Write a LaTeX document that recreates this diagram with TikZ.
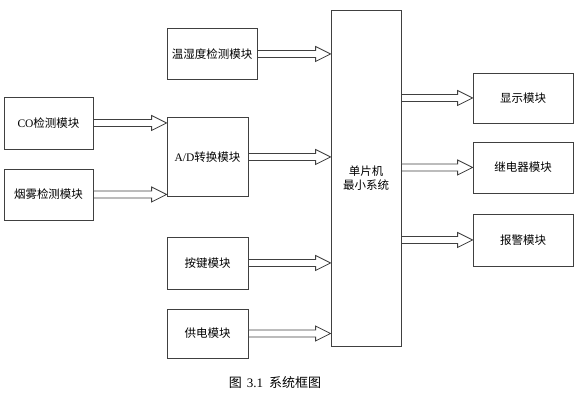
\documentclass[tikz,border=0pt]{standalone}
\usepackage{fontspec}
\setmainfont{Liberation Serif}
\newfontfamily\cjk{Noto Sans CJK SC}
\usetikzlibrary{calc}
\tikzset{
  box/.style={draw=black!75, line width=0.8pt, fill=white, inner sep=0pt, font=\fontsize{11.5}{14}\selectfont\cjk},
  arr/.style={draw=black!75, line width=0.8pt, fill=white},
}
\newcommand\barrow[2]{%
  \draw[arr] let \p1=#1, \p2=#2 in
    (\x1,{\y1+3.5pt}) -- ({\x2-15pt},{\y1+3.5pt}) -- ({\x2-15pt},{\y1+7.5pt}) -- (\x2,\y1)
    -- ({\x2-15pt},{\y1-7.5pt}) -- ({\x2-15pt},{\y1-3.5pt}) -- (\x1,{\y1-3.5pt}) -- cycle;}
\begin{document}
\begin{tikzpicture}[x=1pt,y=-1pt]
\useasboundingbox (0,0) rectangle (587,403);
\node[box, minimum width=70pt, minimum height=336pt, align=center] (mcu) at (366,178) {单片机\\最小系统};
\node[box, minimum width=90pt, minimum height=51pt] (wsd) at (212,54) {温湿度检测模块};
\node[box, minimum width=89pt, minimum height=52pt] (co) at (48.5,123) {{\rmfamily CO}检测模块};
\node[box, minimum width=89pt, minimum height=51pt] (yw) at (48.5,194.5) {烟雾检测模块};
\node[box, minimum width=81pt, minimum height=79pt] (ad) at (207.5,157) {{\rmfamily A/D}转换模块};
\node[box, minimum width=81pt, minimum height=52pt] (aj) at (207.5,263) {按键模块};
\node[box, minimum width=81pt, minimum height=49pt] (gd) at (207.5,333.5) {供电模块};
\node[box, minimum width=100pt, minimum height=50pt] (xs) at (523,98) {显示模块};
\node[box, minimum width=100pt, minimum height=51pt] (jdq) at (523,167.5) {继电器模块};
\node[box, minimum width=100pt, minimum height=52pt] (bj) at (523,240) {报警模块};
\barrow{(wsd.east)}{(mcu.west |- wsd.east)}
\barrow{(co.east)}{(ad.west |- co.east)}
\barrow{(yw.east)}{(ad.west |- yw.east)}
\barrow{(ad.east)}{(mcu.west |- ad.east)}
\barrow{(aj.east)}{(mcu.west |- aj.east)}
\barrow{(gd.east)}{(mcu.west |- gd.east)}
\barrow{(mcu.east |- xs.west)}{(xs.west)}
\barrow{(mcu.east |- jdq.west)}{(jdq.west)}
\barrow{(mcu.east |- bj.west)}{(bj.west)}
\node[font=\fontsize{13}{15}\selectfont\cjk] (cap) at (275,383) {图\hspace{5pt}{\rmfamily 3.1}\hspace{6pt}系统框图};
\end{tikzpicture}
\end{document}
